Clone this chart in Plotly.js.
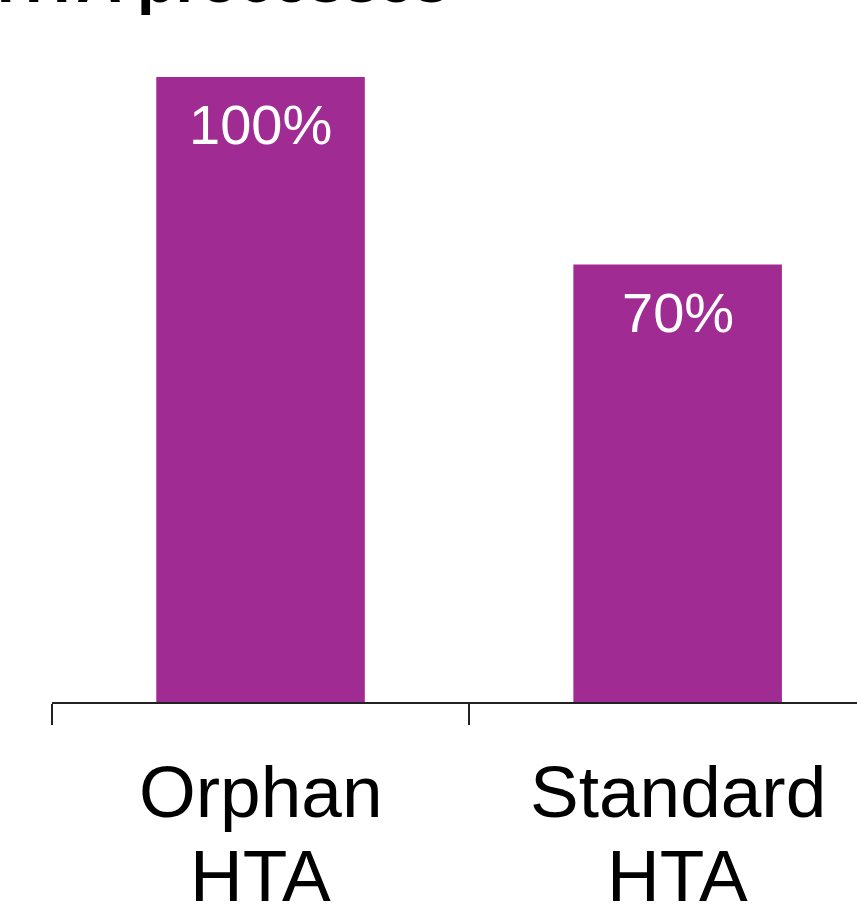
<!DOCTYPE html>
<html>
<head>
<meta charset="utf-8">
<script src="https://cdn.plot.ly/plotly-3.0.1.min.js"></script>
<style>html,body{margin:0;padding:0;overflow:hidden;background:#fff}</style>
</head>
<body>
<div id="chart" style="width:857px;height:905px"></div>
<script>
const categories = ["Orphan HTA", "Standard HTA"];
const labelLine1 = ["Orphan", "Standard"];
const labelLine2 = ["HTA", "HTA"];
const values = [100, 70];
const valueText = ["100%", "70%"];
const titleText = "HTA processes";

const FONT = "Liberation Sans, Arial, sans-serif";
const annotations = [];
categories.forEach((c, i) => {
  annotations.push({xref: "x", yref: "y", x: c, y: values[i], yanchor: "top", xanchor: "center",
    yshift: -14, text: valueText[i], showarrow: false, font: {family: FONT, size: 56, color: "#fff"}});
  annotations.push({xref: "x", yref: "paper", x: c, y: 0, yanchor: "top", xanchor: "center",
    yshift: -47, text: labelLine1[i], showarrow: false, font: {family: FONT, size: 73, color: "#000"}});
  annotations.push({xref: "x", yref: "paper", x: c, y: 0, yanchor: "top", xanchor: "center",
    yshift: -131, text: labelLine2[i], showarrow: false, font: {family: FONT, size: 73, color: "#000"}});
});
annotations.push({xref: "paper", yref: "paper", x: 0, y: 1, xanchor: "left", yanchor: "bottom",
  xshift: -57, yshift: 60, text: "<b>" + titleText + "</b>", showarrow: false,
  font: {family: FONT, size: 63, color: "#000"}});

const data = [{
  type: "bar", x: categories, y: values,
  marker: {color: "#A02B93"}, hoverinfo: "none"
}];
const layout = {
  width: 857, height: 905,
  margin: {l: 52, r: 0, t: 77, b: 203, pad: 0},
  paper_bgcolor: "#fff", plot_bgcolor: "#fff",
  showlegend: false, bargap: 0.5,
  xaxis: {type: "category", range: [-0.5, 1.43], showline: true, linecolor: "#222", linewidth: 1.5,
    ticks: "outside", tickson: "boundaries", ticklen: 21, tickwidth: 1.5, tickcolor: "#222",
    showticklabels: false, showgrid: false, zeroline: false, fixedrange: true},
  yaxis: {range: [0, 100], visible: false, showgrid: false, zeroline: false, fixedrange: true},
  annotations: annotations
};
Plotly.newPlot("chart", data, layout, {staticPlot: true, displayModeBar: false});
</script>
</body>
</html>
